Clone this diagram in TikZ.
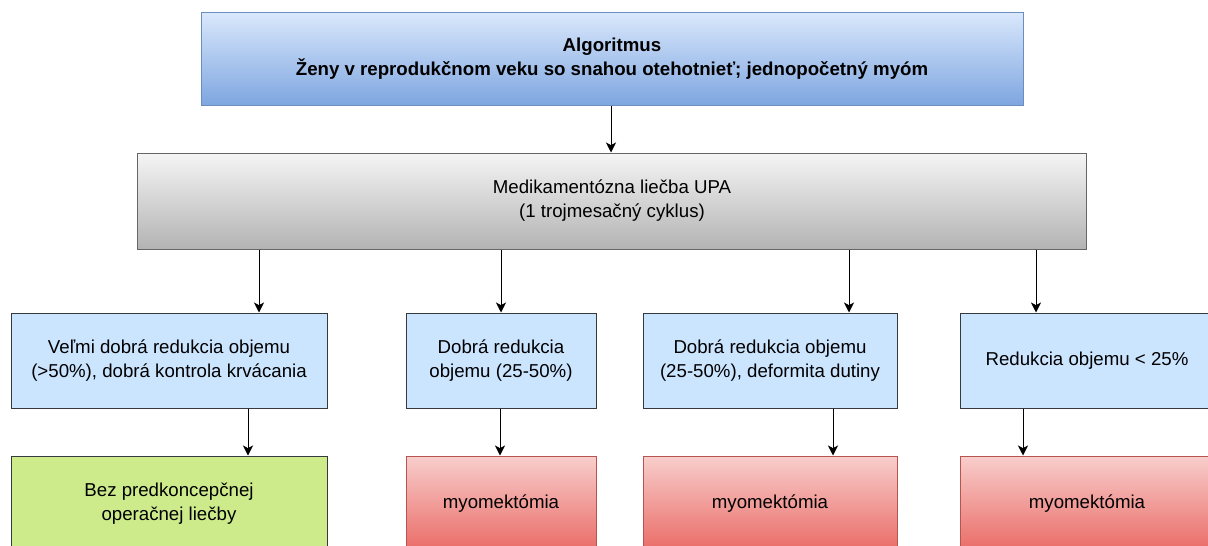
\documentclass[tikz,border=0pt]{standalone}
\usepackage{fontspec}
\setmainfont{Liberation Sans}
\usetikzlibrary{arrows.meta}

% one drawing unit = one screen pixel
\newlength{\pxu}\setlength{\pxu}{0.75pt}

\definecolor{algoTop}{HTML}{DAE8FC}
\definecolor{algoBot}{HTML}{7EA6E0}
\definecolor{algoLine}{HTML}{6C8EBF}
\definecolor{grayTop}{HTML}{F5F5F5}
\definecolor{grayBot}{HTML}{B3B3B3}
\definecolor{grayLine}{HTML}{666666}
\definecolor{paleBlue}{HTML}{CCE5FF}
\definecolor{darkLine}{HTML}{36393D}
\definecolor{paleGreen}{HTML}{CDEB8B}
\definecolor{redTop}{HTML}{F8CECC}
\definecolor{redBot}{HTML}{EA6B66}
\definecolor{redLine}{HTML}{B85450}

\tikzset{
  box/.style={rectangle, inner sep=0pt, align=center, line width=\pxu,
    font=\fontsize{14}{18}\selectfont, text=black},
  titlebox/.style={box, draw=algoLine, top color=algoTop, bottom color=algoBot},
  graybox/.style={box, draw=grayLine, top color=grayTop, bottom color=grayBot},
  resultbox/.style={box, draw=darkLine, fill=paleBlue},
  okbox/.style={box, draw=darkLine, fill=paleGreen},
  surgbox/.style={box, draw=redLine, top color=redTop, bottom color=redBot},
  arr/.style={line width=\pxu, draw=black,
    -{Stealth[length=7.5pt, width=7.5pt, inset=2pt]}}
}

\begin{document}
\begin{tikzpicture}[x=\pxu, y=-\pxu]
\useasboundingbox (0,0) rectangle (1208,546);
\clip (0,0) rectangle (1208,546);

% title and treatment
\node[titlebox, minimum width=822\pxu, minimum height=93\pxu] (algo) at (612,58.5)
  {\textbf{Algoritmus}\\\textbf{Ženy v reprodukčnom veku so snahou otehotnieť; jednopočetný myóm}};
\node[graybox, minimum width=949\pxu, minimum height=96\pxu] (upa) at (612,201)
  {Medikamentózna liečba UPA\\(1 trojmesačný cyklus)};

% outcomes of the treatment
\node[resultbox, minimum width=316\pxu, minimum height=95\pxu] (r1) at (169,360.5)
  {Veľmi dobrá redukcia objemu\\(>50\%), dobrá kontrola krvácania};
\node[resultbox, minimum width=190\pxu, minimum height=95\pxu] (r2) at (501,360.5)
  {Dobrá redukcia\\objemu (25-50\%)};
\node[resultbox, minimum width=254\pxu, minimum height=95\pxu] (r3) at (770,360.5)
  {Dobrá redukcia objemu\\(25-50\%), deformita dutiny};
\node[resultbox, minimum width=254\pxu, minimum height=95\pxu] (r4) at (1087,360.5)
  {Redukcia objemu < 25\%};

% recommended procedure
\node[okbox, minimum width=316\pxu, minimum height=95\pxu] (p1) at (169,503.5)
  {Bez predkoncepčnej\\operačnej liečby};
\node[surgbox, minimum width=190\pxu, minimum height=95\pxu] (p2) at (501,503.5)
  {myomektómia};
\node[surgbox, minimum width=254\pxu, minimum height=95\pxu] (p3) at (770,503.5)
  {myomektómia};
\node[surgbox, minimum width=254\pxu, minimum height=95\pxu] (p4) at (1087,503.5)
  {myomektómia};

% connector columns
\coordinate (a0) at (611,0);
\coordinate (a1) at (259,0);
\coordinate (a2) at (501,0);
\coordinate (a3) at (849,0);
\coordinate (a4) at (1036,0);
\coordinate (b1) at (248,0);
\coordinate (b2) at (500,0);
\coordinate (b3) at (833,0);
\coordinate (b4) at (1023,0);

\draw[arr] (algo.south -| a0) -- (upa.north -| a0);
\draw[arr] (upa.south -| a1) -- (r1.north -| a1);
\draw[arr] (upa.south -| a2) -- (r2.north -| a2);
\draw[arr] (upa.south -| a3) -- (r3.north -| a3);
\draw[arr] (upa.south -| a4) -- (r4.north -| a4);
\draw[arr] (r1.south -| b1) -- (p1.north -| b1);
\draw[arr] (r2.south -| b2) -- (p2.north -| b2);
\draw[arr] (r3.south -| b3) -- (p3.north -| b3);
\draw[arr] (r4.south -| b4) -- (p4.north -| b4);
\end{tikzpicture}
\end{document}
